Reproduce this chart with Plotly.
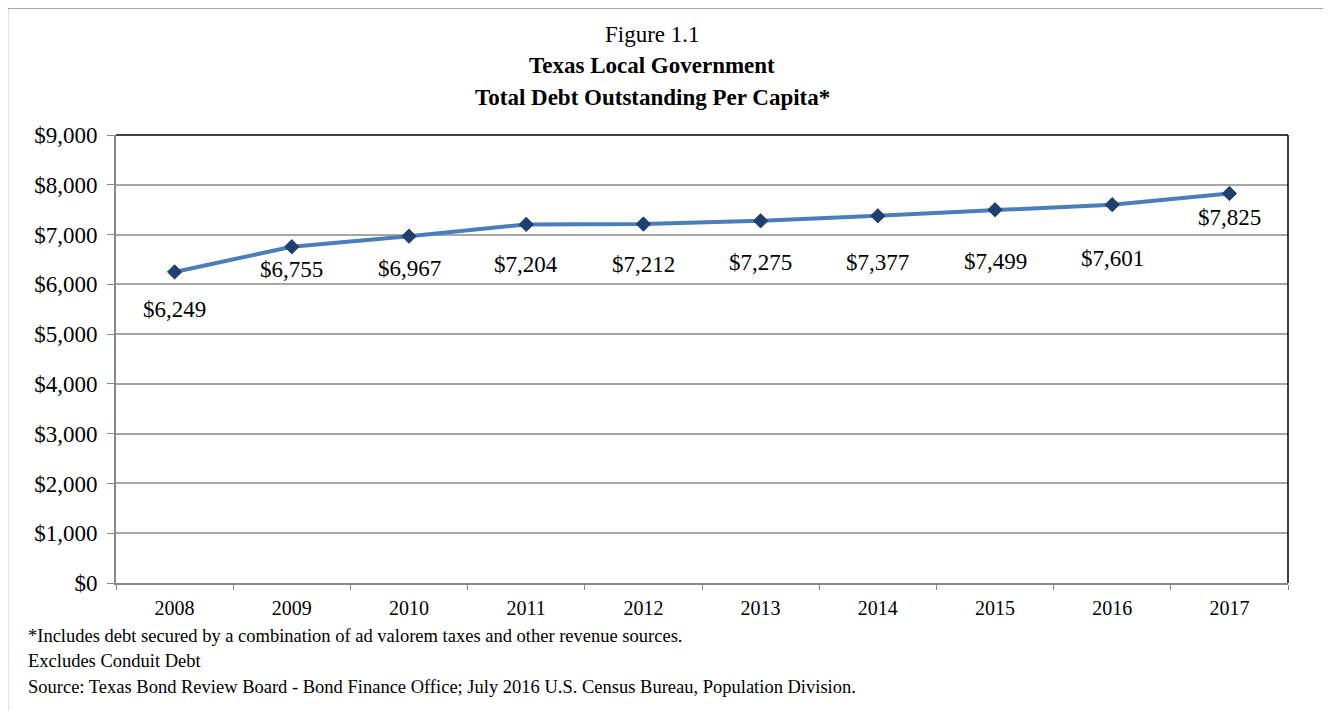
import plotly.graph_objects as go

years = ["2008", "2009", "2010", "2011", "2012", "2013", "2014", "2015", "2016", "2017"]
debt_per_capita = [6249, 6755, 6967, 7204, 7212, 7275, 7377, 7499, 7601, 7825]
y_ticks = [0, 1000, 2000, 3000, 4000, 5000, 6000, 7000, 8000, 9000]
y_tick_labels = ["$" + format(v, ",") for v in y_ticks]
label_shift = [-38, -23, -32, -40, -40, -42, -47, -52, -54, -24]

FONT = "Liberation Serif"

fig = go.Figure()
fig.add_trace(go.Scatter(
    x=years, y=debt_per_capita, mode="lines+markers",
    line=dict(color="#4A7EBB", width=4),
    marker=dict(symbol="diamond", size=11, color="#1F3F6E",
                line=dict(color="#1F3F6E", width=1)),
    showlegend=False, hoverinfo="x+y",
))

annotations = []
for i, (yr, v, s) in enumerate(zip(years, debt_per_capita, label_shift)):
    annotations.append(dict(x=i, y=v, xref="x", yref="y", text="$" + format(v, ","),
                            showarrow=False, yshift=s, xanchor="center", yanchor="middle",
                            font=dict(family=FONT, size=23, color="black")))

W, H = 1172, 448
def px(xp):
    return (xp - 116) / W
def py(yp):
    return (583 - yp) / H

annotations += [
    dict(x=px(652), y=py(35), xref="paper", yref="paper", text="Figure 1.1", showarrow=False,
         font=dict(family=FONT, size=23, color="black"), xanchor="center", yanchor="middle"),
    dict(x=px(652), y=py(66), xref="paper", yref="paper", text="<b>Texas Local Government</b>", showarrow=False,
         font=dict(family=FONT, size=23, color="black"), xanchor="center", yanchor="middle"),
    dict(x=px(652), y=py(98), xref="paper", yref="paper", text="<b>Total Debt Outstanding Per Capita*</b>", showarrow=False,
         font=dict(family=FONT, size=23, color="black"), xanchor="center", yanchor="middle"),
    dict(x=px(26), y=py(636), xref="paper", yref="paper",
         text="*Includes debt secured by a combination of ad valorem taxes and other revenue sources.",
         showarrow=False, font=dict(family=FONT, size=18.5, color="black"), xanchor="left", yanchor="middle"),
    dict(x=px(26), y=py(661), xref="paper", yref="paper", text="Excludes Conduit Debt",
         showarrow=False, font=dict(family=FONT, size=18.5, color="black"), xanchor="left", yanchor="middle"),
    dict(x=px(26), y=py(687), xref="paper", yref="paper",
         text="Source: Texas Bond Review Board - Bond Finance Office; July 2016 U.S. Census Bureau, Population Division.",
         showarrow=False, font=dict(family=FONT, size=18.5, color="black"), xanchor="left", yanchor="middle"),
]

shapes = [
    dict(type="rect", xref="paper", yref="paper", x0=px(7.5), x1=px(1325.5), y0=py(740), y1=py(8),
         line=dict(color="#8C8C8C", width=1.5), fillcolor="rgba(0,0,0,0)", layer="below"),
    dict(type="line", xref="paper", yref="paper", x0=0, x1=1, y0=1, y1=1, line=dict(color="black", width=1.5)),
    dict(type="line", xref="paper", yref="paper", x0=1, x1=1, y0=0, y1=1, line=dict(color="black", width=1.5)),
]

fig.update_layout(
    width=1323, height=703,
    margin=dict(l=108, r=43, t=127, b=128),
    paper_bgcolor="white", plot_bgcolor="white",
    font=dict(family=FONT, color="black"),
    annotations=annotations, shapes=shapes,
    xaxis=dict(type="category", tickson="boundaries", ticks="outside", ticklen=5, tickcolor="#888888",
               showline=True, linecolor="#888888", linewidth=2, showgrid=False, ticklabelstandoff=6,
               tickfont=dict(family=FONT, size=20, color="black"), range=[-0.5, 9.5]),
    yaxis=dict(range=[0, 9000], tickvals=y_ticks, ticktext=y_tick_labels, ticks="outside", ticklen=7,
               tickcolor="#888888", showline=True, linecolor="#888888", linewidth=2, ticklabelstandoff=5,
               showgrid=True, gridcolor="#A6A6A6", gridwidth=1.5, zeroline=False,
               tickfont=dict(family=FONT, size=23, color="black")),
)

fig.write_html("out.html")
